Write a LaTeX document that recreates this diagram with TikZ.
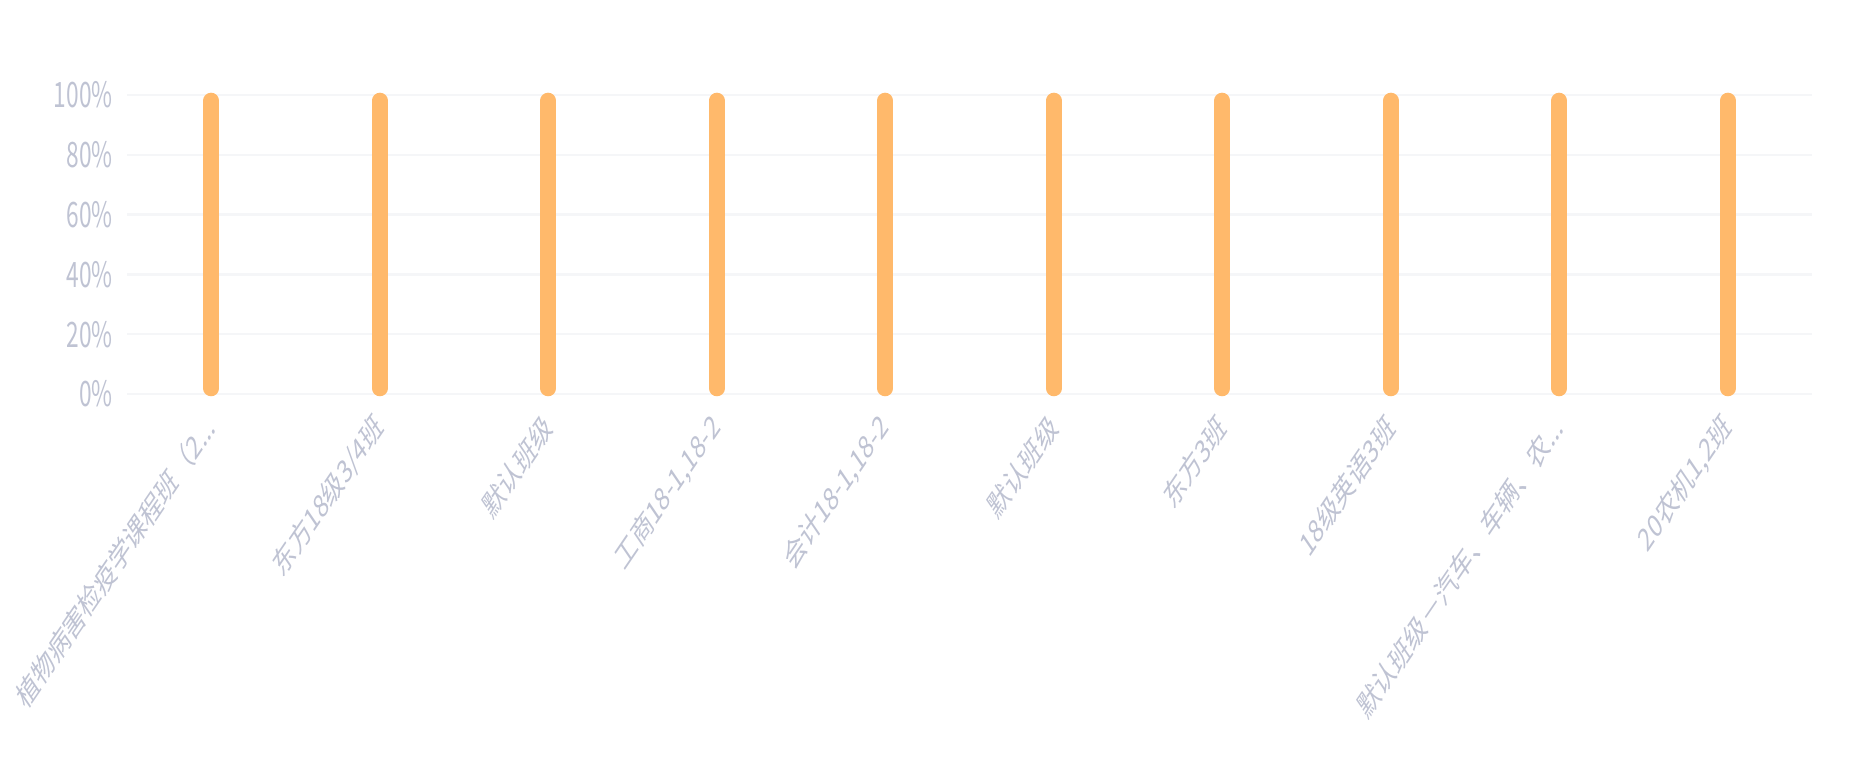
\documentclass[tikz,border=0pt]{standalone}
\usepackage{fontspec}
\newfontfamily\cjk{Noto Sans CJK SC}
\usetikzlibrary{positioning}
\definecolor{barorange}{HTML}{FFB96B}
\definecolor{gridgray}{HTML}{F5F6F8}
\definecolor{labelgray}{HTML}{BFC3D3}
\newcommand\cutmark{...}

\begin{document}
\begin{tikzpicture}[
            x=0.5pt, y=-0.5pt,
            grid line/.style={gridgray, line width=1.2pt},
            rate bar/.style={barorange, line width=7.8pt, line cap=round},
            tick label/.style={labelgray, inner sep=0pt,
                font=\cjk\fontsize{17.5}{20}\selectfont},
            class label/.style={tick label, font=\cjk\fontsize{16}{19}\selectfont},
        ]
        \useasboundingbox (0,0) rectangle (1867,779);

        % grid and y axis
        \foreach \p [count=\i from 0] in {0,20,40,60,80,100} {
            \coordinate (grid-l-\p) at (127, {394-59.8*\i});
            \coordinate (grid-r-\p) at (1812, {394-59.8*\i});
            \draw[grid line] (grid-l-\p) -- (grid-r-\p);
            \begin{scope}[shift={(113, {394-59.8*\i})}, xscale=0.65]
                \node[tick label, anchor=east, transform shape] (ylab-\p) at (0,0) {\p\%};
            \end{scope}
        }

        % bars, all at 100%
        \foreach \i in {0,1,2,3,4,5,6,7,8,9} {
            \coordinate (bar-top-\i) at ({211.25+168.5*\i}, 100.5);
            \coordinate (bar-bot-\i) at ({211.25+168.5*\i}, 388.5);
            \draw[rate bar] (bar-bot-\i) -- (bar-top-\i);
        }

        % class names
        \foreach \name [count=\i from 0] in {
                {植物病害检疫学课程班（2\cutmark},
                {东方18级3/4班},
                {默认班级},
                {工商18-1,18-2},
                {会计18-1,18-2},
                {默认班级},
                {东方3班},
                {18级英语3班},
                {默认班级－汽车、车辆、农\cutmark},
                {20农机1,2班}} {
            \begin{scope}[shift={({211.25+168.5*\i}, 421)}, xscale=0.68]
                \node[class label, rotate=45, anchor=east, transform shape] (xlab-\i) at (0,0) {\name};
            \end{scope}
        }
    \end{tikzpicture}
\end{document}
